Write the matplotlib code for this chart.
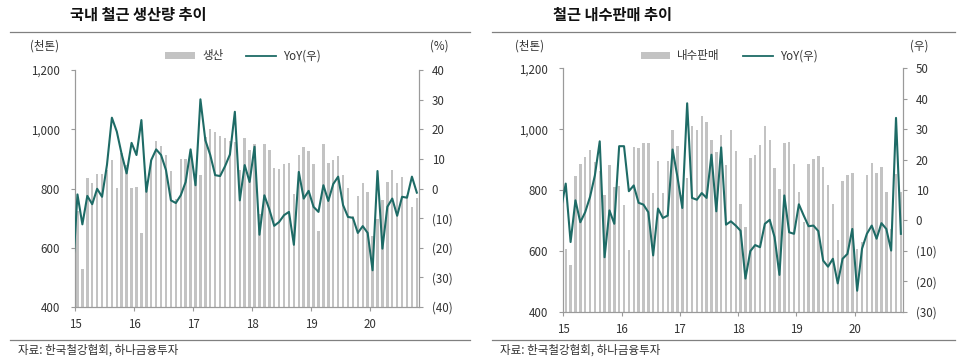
import numpy as np
import matplotlib
matplotlib.use("Agg")
import matplotlib.pyplot as plt
from matplotlib.lines import Line2D
from matplotlib.patches import Patch
from matplotlib.ticker import FuncFormatter, FixedLocator

plt.rcParams['font.family'] = ['Noto Sans CJK KR', 'DejaVu Sans']

# ---------------- data ----------------
year_labels = ['15', '16', '17', '18', '19', '20']

# 국내 철근 생산량 (천톤), Jan 2015 - Oct 2020
production = [724, 529, 834, 820, 848, 850, 864, 895, 803, 920, 880, 801,
              806, 651, 825, 896, 961, 943, 914, 858, 765, 899, 899, 907,
              830, 847, 975, 1002, 990, 978, 970, 962, 958, 862, 970, 930,
              950, 715, 950, 930, 868, 867, 882, 887, 780, 912, 940, 928,
              882, 657, 950, 885, 896, 910, 845, 802, 706, 776, 820, 788,
              640, 697, 760, 823, 863, 818, 838, 778, 736, 767]
# 생산 YoY (%), first value = Dec 2014
production_yoy = [-30.0,
                  -2.0, -12.1, -2.5, -5.3, -0.1, -2.8, 8.0, 23.9, 19.2, 11.5, 5.1, 15.4,
                  11.3, 23.1, -1.1, 9.6, 13.2, 11.3, 6.2, -4.0, -4.9, -2.3, 2.2, 13.2,
                  1.1, 30.1, 16.3, 11.3, 4.5, 4.2, 7.5, 11.5, 25.9, -4.0, 7.9, 2.2,
                  14.1, -15.6, -2.3, -7.0, -12.6, -11.3, -9.0, -7.9, -19.0, 5.6, -3.4, -0.8,
                  -6.2, -7.9, 1.1, -4.2, 1.5, 4.0, -5.6, -9.6, -9.9, -15.0, -12.7, -15.0,
                  -27.6, 5.9, -20.3, -6.2, -3.4, -9.2, -2.8, -3.1, 4.0, -1.4]

# 철근 내수판매 (천톤), Jan 2015 - Oct 2020
domestic = [605, 555, 846, 885, 909, 931, 891, 862, 783, 882, 809, 813,
            752, 603, 940, 937, 956, 956, 790, 896, 791, 896, 998, 946,
            783, 839, 1010, 998, 1043, 1023, 965, 924, 982, 882, 998, 929,
            754, 678, 906, 916, 948, 1009, 965, 871, 804, 953, 958, 884,
            792, 694, 887, 902, 911, 877, 818, 754, 636, 831, 848, 856,
            606, 630, 849, 889, 855, 875, 792, 673, 851, 792]
# 내수판매 YoY (%), first value = Dec 2014
domestic_yoy = [3.5,
                12.1, -7.1, 6.6, -0.6, 2.7, 7.7, 14.8, 26.0, -12.1, 3.3, -1.1, 24.4,
                24.4, 9.6, 11.5, 5.8, 5.2, 2.7, -11.5, 3.9, 0.8, 1.6, 23.3, 14.3,
                4.1, 38.5, 7.4, 6.8, 9.0, 7.4, 21.6, 3.0, 24.0, -1.4, -0.3, -1.7,
                -3.4, -19.1, -10.1, -8.1, -8.8, -1.1, 0.2, -5.5, -17.9, 8.2, -3.9, -4.4,
                5.3, 1.6, -1.9, -1.7, -3.5, -13.2, -15.2, -12.6, -20.7, -12.6, -11.0, -2.8,
                -23.1, -9.3, -4.4, -1.7, -6.0, -0.9, -2.8, -9.9, 33.7, -4.4]

BAR = '#C3C3C3'
LINE = '#1E6B66'
SPINE = '#9A9A9A'
TXT = '#333333'
FS = 8.3

fig = plt.figure(figsize=(9.6, 3.58), dpi=100)
W, H = 960, 358


def fx(px):
    return px / W


def fy(py):
    return 1 - py / H


def paren(v, pos):
    v = int(round(v))
    return f'({abs(v)})' if v < 0 else f'{v}'


def panel(rect, bars, yoy, rlim, rstep, bar_label, title, title_x, unit_r,
          unit_r_x, unit_l_x, leg_cx, rule_x0, rule_x1, src_x):
    ax = fig.add_axes(rect)
    n = len(bars)
    x = np.arange(n) + 0.5
    ax.bar(x, bars, width=0.5, color=BAR, zorder=1)
    ax.set_xlim(0, n)
    ax.set_ylim(400, 1200)
    ax.yaxis.set_major_locator(FixedLocator(np.arange(400, 1201, 200)))
    ax.yaxis.set_major_formatter(FuncFormatter(lambda v, p: f'{int(v):,}'))
    ax.set_xticks(np.arange(0, n, 12))
    ax.set_xticklabels(year_labels)
    ax2 = ax.twinx()
    xl = np.arange(len(yoy)) - 0.5
    ax2.plot(xl, yoy, color=LINE, lw=1.5, zorder=3)
    ax2.set_xlim(0, n)
    ax2.set_ylim(*rlim)
    ax2.yaxis.set_major_locator(FixedLocator(np.arange(rlim[0], rlim[1] + 1, rstep)))
    ax2.yaxis.set_major_formatter(FuncFormatter(paren))
    for a in (ax, ax2):
        a.spines['top'].set_visible(False)
        for s in ('left', 'right', 'bottom'):
            a.spines[s].set_color(SPINE)
            a.spines[s].set_linewidth(0.8)
        a.tick_params(colors=SPINE, labelcolor=TXT, labelsize=FS, length=3, width=0.8)
    ax.tick_params(axis='y', pad=8)
    ax.tick_params(axis='x', pad=5)
    ax2.tick_params(axis='y', pad=6)
    ax.patch.set_visible(False)

    fig.text(fx(title_x), fy(15), title, fontsize=11, fontweight='bold',
             color='#111111', ha='left', va='center')
    fig.add_artist(Line2D([fx(rule_x0), fx(rule_x1)], [fy(32), fy(32)],
                          color='#808080', lw=0.9))
    fig.add_artist(Line2D([fx(rule_x0), fx(rule_x1)], [fy(340), fy(340)],
                          color='#808080', lw=0.9))
    fig.text(fx(unit_l_x), fy(46), '(천톤)', fontsize=FS, color=TXT, ha='left', va='center')
    fig.text(fx(unit_r_x), fy(46), unit_r, fontsize=FS, color=TXT, ha='left', va='center')
    fig.text(fx(src_x), fy(350), '자료: 한국철강협회, 하나금융투자', fontsize=FS,
             color=TXT, ha='left', va='center')
    handles = [Patch(facecolor=BAR, edgecolor='none'),
               Line2D([], [], color=LINE, lw=1.3)]
    ax.legend(handles, [bar_label, 'YoY(우)'], ncol=2, loc='center',
              bbox_to_anchor=(fx(leg_cx), fy(56)), bbox_transform=fig.transFigure,
              frameon=False, fontsize=FS, handlelength=2.6, handleheight=0.6,
              columnspacing=2.0, handletextpad=0.6, labelcolor=TXT)
    return ax, ax2


panel([fx(75), fy(307), fx(419.3 - 75), (307 - 70) / H], production, production_yoy,
      (-40, 40), 10, '생산', '국내 철근 생산량 추이', 70, '(%)', 430, 30, 243, 10, 470, 18)
panel([fx(563.3), fy(311.7), fx(903.3 - 563.3), (311.7 - 68.3) / H], domestic, domestic_yoy,
      (-30, 50), 10, '내수판매', '철근 내수판매 추이', 553, '(우)', 910, 515, 729, 492, 955, 500)

fig.savefig('out.png', dpi=100)
